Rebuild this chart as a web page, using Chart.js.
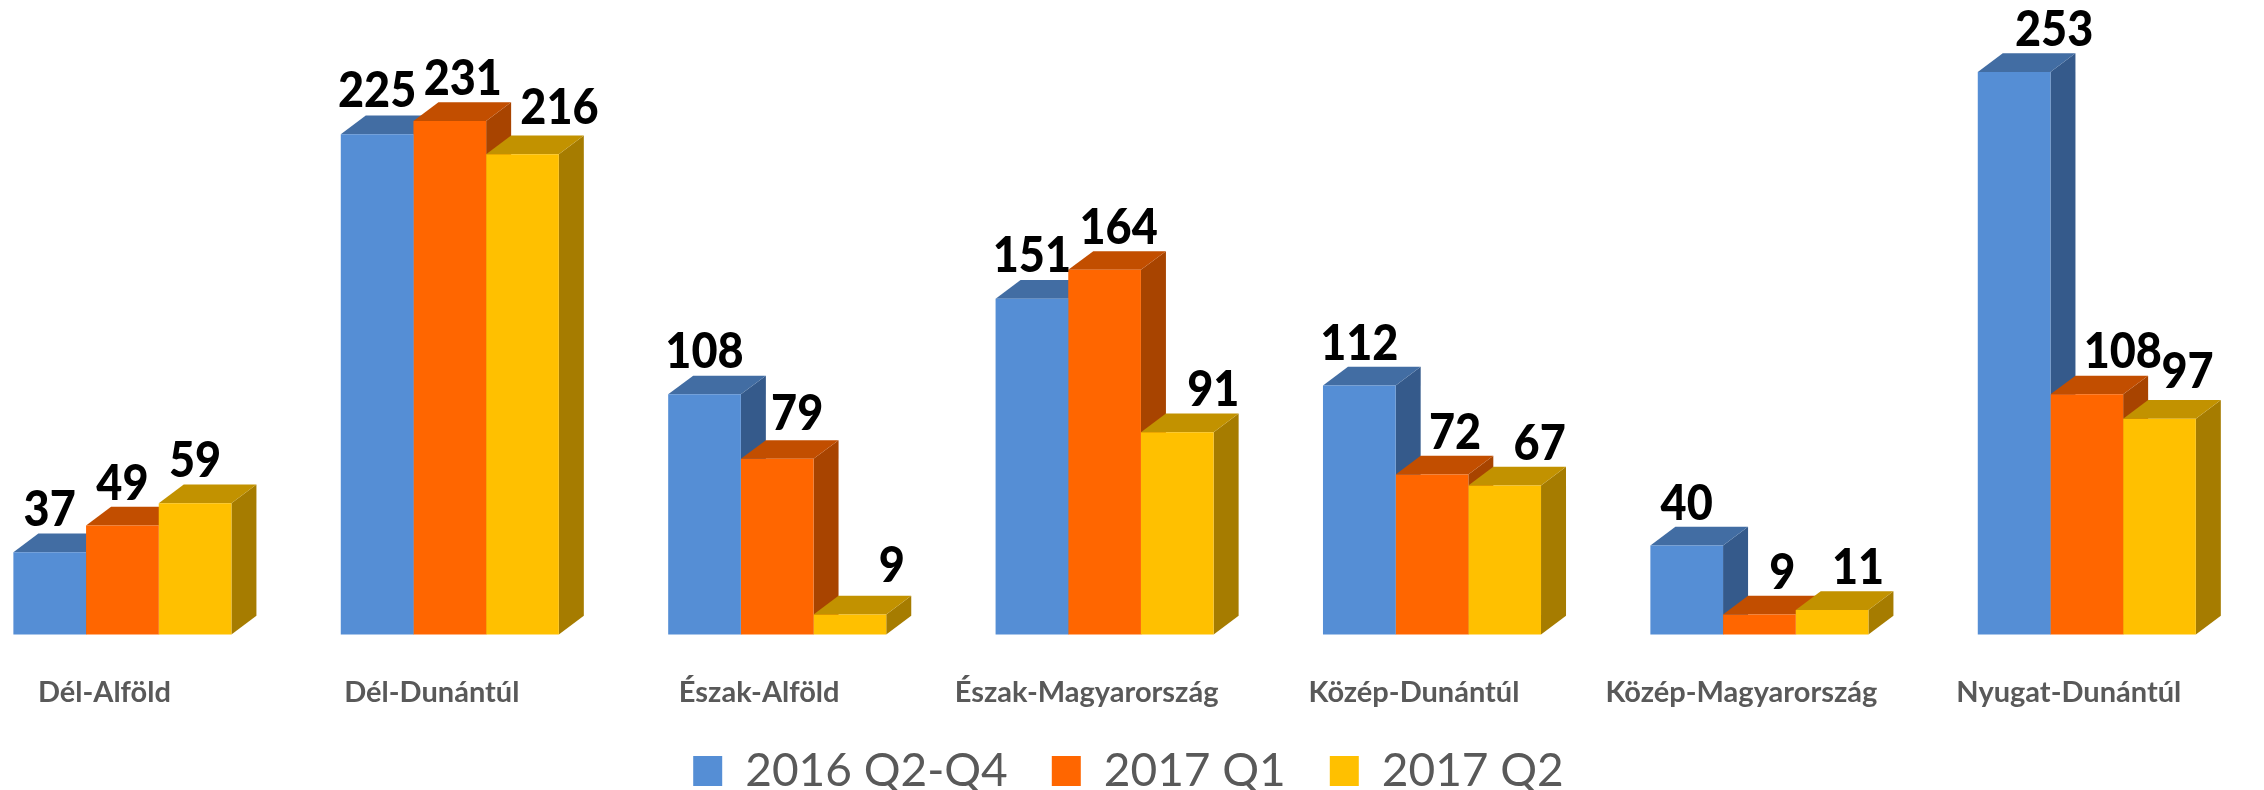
<!DOCTYPE html>
<html><head><meta charset="utf-8">
<style>html,body{margin:0;padding:0;background:#fff}#w{width:2264px;height:790px;position:relative}</style>
<script src="https://cdn.jsdelivr.net/npm/chart.js@4"></script>
</head><body><div id="w"><canvas id="c"></canvas></div>
<script>
const categories = ["Dél-Alföld","Dél-Dunántúl","Észak-Alföld","Észak-Magyarország","Közép-Dunántúl","Közép-Magyarország","Nyugat-Dunántúl"];
const seriesNames = ["2016 Q2-Q4","2017 Q1","2017 Q2"];
const values2016 = [37,225,108,151,112,40,253];
const values2017Q1 = [49,231,79,164,72,9,108];
const values2017Q2 = [59,216,9,91,67,11,97];

const frontColors = ["#558ED5","#FF6600","#FFC000"];
const topColors = ["#426DA3","#C24E00","#C29200"];
const sideColors = ["#355A8B","#A84400","#A67C00"];
const depthX = 25, depthY = 18.7;
const labelShift = [
  [0,0,0,0,0,0,40],
  [0,13,20,14,23,23,36],
  [0,37,42,36,35,26,28]
];
const labelLift = [
  [42,43,42,43,42,42,42],
  [42,42,45,42,42,42,42],
  [42,46,49,42,42,42,47]
];

const extrude = {
  id:'extrude',
  afterLayout(chart){
    const x=chart.scales.x, y=chart.scales.y, a=chart.chartArea, lg=chart.legend;
    x.left=-41.3; x.right=2250.5; x.width=x.right-x.left; x.configure();
    y.top=56.4; y.bottom=634.5; y.height=y.bottom-y.top; y.configure();
    x.top=634.5; x.bottom=735;
    a.left=x.left;a.right=x.right;a.top=y.top;a.bottom=y.bottom;a.width=x.width;a.height=y.height;
    const h=lg.bottom-lg.top;
    lg.top=704; lg.bottom=704+h;
    lg.left-=3.5; lg.right-=3.5;
  },
  beforeDatasetsDraw(chart){
    const ctx = chart.ctx;
    chart.data.datasets.forEach((d,i)=>{
      chart.getDatasetMeta(i).data.forEach(b=>{
        const l=b.x-b.width/2, r=b.x+b.width/2, t=b.y, bt=b.base;
        ctx.fillStyle=sideColors[i];
        ctx.beginPath();ctx.moveTo(r,t);ctx.lineTo(r+depthX,t-depthY);ctx.lineTo(r+depthX,bt-depthY);ctx.lineTo(r,bt);ctx.closePath();ctx.fill();
        ctx.fillStyle=topColors[i];
        ctx.beginPath();ctx.moveTo(l,t);ctx.lineTo(l+depthX,t-depthY);ctx.lineTo(r+depthX,t-depthY);ctx.lineTo(r,t);ctx.closePath();ctx.fill();
      });
    });
  },
  afterDatasetsDraw(chart){
    const ctx = chart.ctx;
    ctx.font='900 50px Lato';ctx.fillStyle='#000';ctx.textAlign='center';ctx.textBaseline='middle';
    chart.data.datasets.forEach((d,i)=>{
      chart.getDatasetMeta(i).data.forEach((b,j)=>{
        ctx.save();
        ctx.translate(b.x+labelShift[i][j], b.y-labelLift[i][j]);
        ctx.scale(0.9,1);
        ctx.fillText(String(d.data[j]),0,0);
        ctx.restore();
      });
    });
  }
};

new Chart(document.getElementById('c'),{
  type:'bar',
  data:{labels:categories,datasets:[values2016,values2017Q1,values2017Q2].map((v,i)=>({
    label:seriesNames[i],data:v,backgroundColor:frontColors[i],borderWidth:0,
    categoryPercentage:0.666,barPercentage:1,clip:false
  }))},
  options:{
    responsive:true,maintainAspectRatio:false,animation:false,
    plugins:{
      tooltip:{enabled:false},
      legend:{position:'bottom',labels:{font:{family:'Lato',size:46},color:'#595959',boxWidth:29,boxHeight:30,padding:44}}
    },
    scales:{
      x:{grid:{display:false},border:{display:false},
         ticks:{font:{family:'Lato',weight:'700',size:29},color:'#595959',labelOffset:-18,padding:33,maxRotation:0,autoSkip:false}},
      y:{display:false,min:0,max:260}
    }
  },
  plugins:[extrude]
});
</script></body></html>
